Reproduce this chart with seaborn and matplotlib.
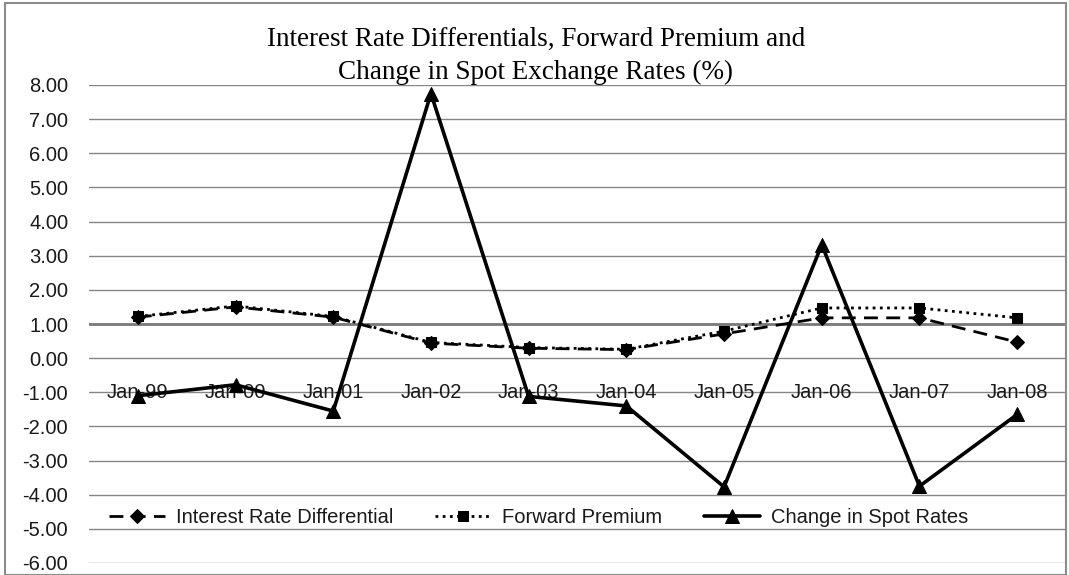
import matplotlib
matplotlib.use("Agg")
import matplotlib.pyplot as plt
from matplotlib.patches import Rectangle
import seaborn as sns
import pandas as pd

# Annual observations
periods = ["Jan-99", "Jan-00", "Jan-01", "Jan-02", "Jan-03",
           "Jan-04", "Jan-05", "Jan-06", "Jan-07", "Jan-08"]
interest_rate_diff = [1.20, 1.50, 1.20, 0.44, 0.29, 0.25, 0.71, 1.18, 1.18, 0.47]
forward_premium = [1.22, 1.53, 1.22, 0.46, 0.31, 0.26, 0.79, 1.47, 1.47, 1.18]
spot_change = [-1.10, -0.78, -1.55, 7.75, -1.12, -1.40, -3.77, 3.32, -3.75, -1.65]
y_ticks = [8, 7, 6, 5, 4, 3, 2, 1, 0, -1, -2, -3, -4, -5, -6]

sns.set_theme(style="white")
plt.rcParams["font.family"] = ["Liberation Sans", "DejaVu Sans"]

fig = plt.figure(figsize=(10.69, 5.75), dpi=100)
ax = fig.add_axes([89 / 1069, 1 - 563 / 575, (1066 - 89) / 1069, (563 - 85) / 575])

pos = list(range(len(periods)))
df = pd.DataFrame({"pos": pos, "ird": interest_rate_diff,
                   "fp": forward_premium, "spot": spot_change})

# horizontal gridlines
for v in y_ticks:
    ax.axhline(v, color="#868686", lw=1.0, zorder=0)
ax.axhline(1.0, color="#7a7a7a", lw=2.0, zorder=0)

sns.lineplot(data=df, x="pos", y="ird", ax=ax, color="black", lw=2,
             linestyle=(0, (5, 3)), marker="D", markersize=7, markeredgecolor="black",
             label="Interest Rate Differential", zorder=3)
sns.lineplot(data=df, x="pos", y="fp", ax=ax, color="black", lw=2,
             linestyle=(0, (1, 1.6)), marker="s", markersize=6.5, markeredgecolor="black",
             label="Forward Premium", zorder=3)
sns.lineplot(data=df, x="pos", y="spot", ax=ax, color="black", lw=2.6,
             linestyle="-", marker="^", markersize=10, markeredgecolor="black",
             label="Change in Spot Rates", zorder=4)

ax.set_xlim(-0.5, len(periods) - 0.5)
ax.set_ylim(-6, 8)
ax.set_yticks(y_ticks)
ax.set_yticklabels([f"{v:.2f}" for v in y_ticks], fontsize=14.5, color="#1a1a1a")
ax.tick_params(axis="y", length=0, pad=15)
ax.set_xticks([])
ax.set_xlabel("")
ax.set_ylabel("")
for s in ax.spines.values():
    s.set_visible(False)

# category labels sit on the -1.00 gridline
for p, lab in zip(pos, periods):
    ax.text(p, -1.0, lab, ha="center", va="center", fontsize=14.5,
            color="#1a1a1a", zorder=2)

leg = ax.legend(loc="center", bbox_to_anchor=(0.4600, (-4.67 + 6) / 14), ncol=3,
                frameon=False, fontsize=14.5, handlelength=2.8, columnspacing=2.1,
                handletextpad=0.5)
for t in leg.get_texts():
    t.set_color("#1a1a1a")

fig.text(536 / 1069, 1 - 56 / 575,
         "Interest Rate Differentials, Forward Premium and\nChange in Spot Exchange Rates (%)",
         ha="center", va="center", fontsize=19.5, family="Liberation Serif",
         linespacing=1.45, color="black")

fig.patches.append(Rectangle((5 / 1069, 0), (1066 - 5) / 1069, 1 - 3 / 575,
                             transform=fig.transFigure, fill=False,
                             edgecolor="#8c8c8c", lw=1.5))

fig.savefig("out.png", dpi=100)
